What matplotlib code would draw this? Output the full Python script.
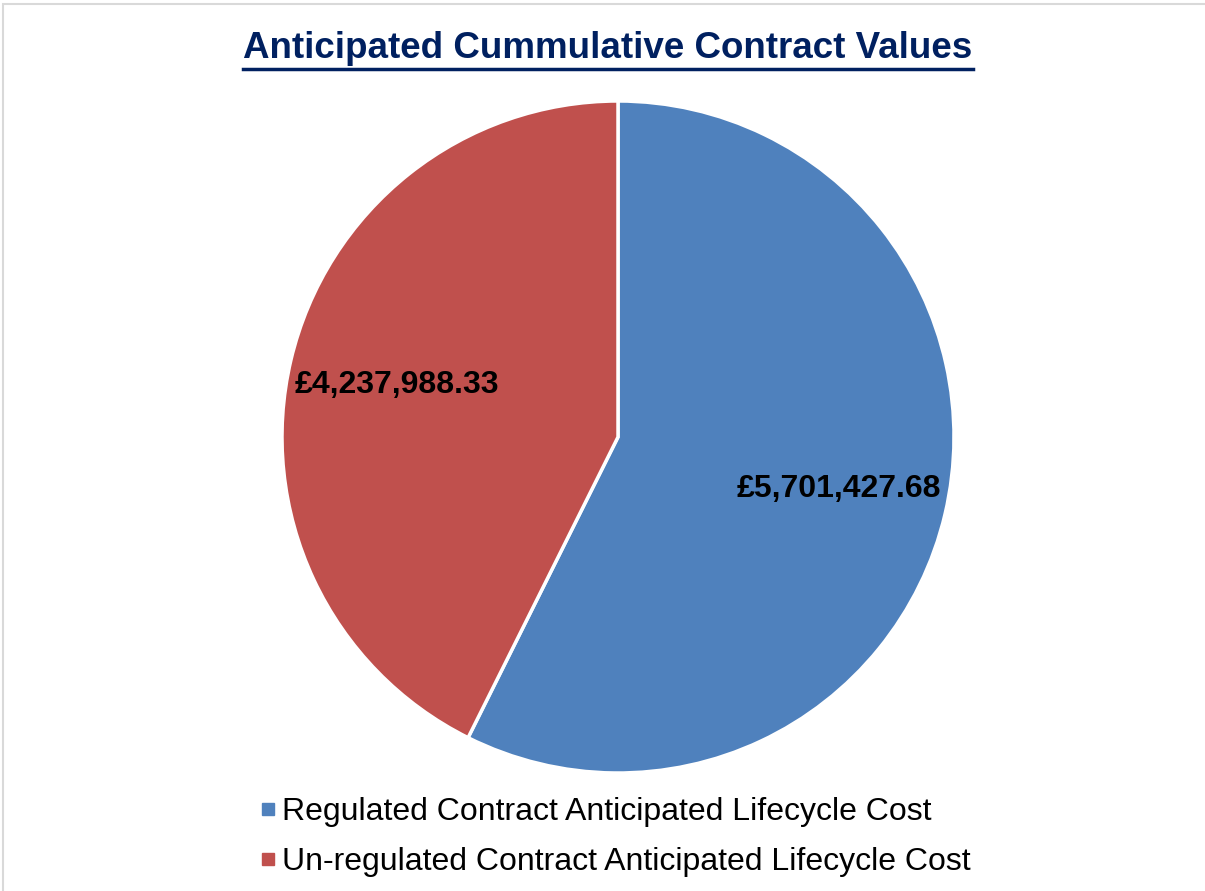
import matplotlib.pyplot as plt
from matplotlib.lines import Line2D
from matplotlib.patches import Rectangle

plt.rcParams['font.family'] = ['Liberation Sans', 'DejaVu Sans']

# datos
categorias = ['Regulated Contract Anticipated Lifecycle Cost',
              'Un-regulated Contract Anticipated Lifecycle Cost']
valores = [5701427.68, 4237988.33]
colores = ['#4F81BD', '#C0504D']
titulo = 'Anticipated Cummulative Contract Values'

W, H = 1205, 891
fig = plt.figure(figsize=(W / 100, H / 100), dpi=100)
fig.patch.set_facecolor('white')

# borde gris del grafico (arriba e izquierda)
fig.add_artist(Rectangle((3 / W, -0.1), 1.2, 1 - 4 / H + 0.1, transform=fig.transFigure,
                         fill=False, edgecolor='#D9D9D9', linewidth=1.5))

# pie
ax = fig.add_axes([282 / W, 118 / H, 672 / W, 672 / H])
wedges, textos, autotextos = ax.pie(
    valores, colors=colores, startangle=90, counterclock=False, radius=1,
    wedgeprops=dict(edgecolor='white', linewidth=2.5),
    autopct='%1.1f', pctdistance=0.675,
    textprops=dict(fontsize=23, fontweight='bold', color='black'))
# etiquetas con el valor exacto
for txt, v in zip(autotextos, valores):
    txt.set_text('£{:,.2f}'.format(v))
ax.set_xlim(-1, 1)
ax.set_ylim(-1, 1)
ax.set_aspect('equal')
ax.axis('off')

# titulo subrayado
t = fig.text(608 / W, 1 - 49 / H, titulo, ha='center', va='center',
             fontsize=26.5, fontweight='bold', color='#002060')
fig.canvas.draw()
bb = t.get_window_extent(fig.canvas.get_renderer())
y_linea = (bb.y0 - 2) / H
fig.add_artist(Line2D([bb.x0 / W, bb.x1 / W], [y_linea, y_linea], transform=fig.transFigure,
                      color='#002060', linewidth=2.5))

# leyenda
handles = [Line2D([0], [0], marker='s', linestyle='none', markersize=9,
                  markerfacecolor=c, markeredgecolor=c) for c in colores]
fig.legend(handles, categorias, loc='upper left', bbox_to_anchor=(239 / W, 1 - 781 / H),
           frameon=False, fontsize=23, handletextpad=0.05, handlelength=0.8,
           labelspacing=0.62, borderpad=0)

fig.savefig('out.png', dpi=100)
